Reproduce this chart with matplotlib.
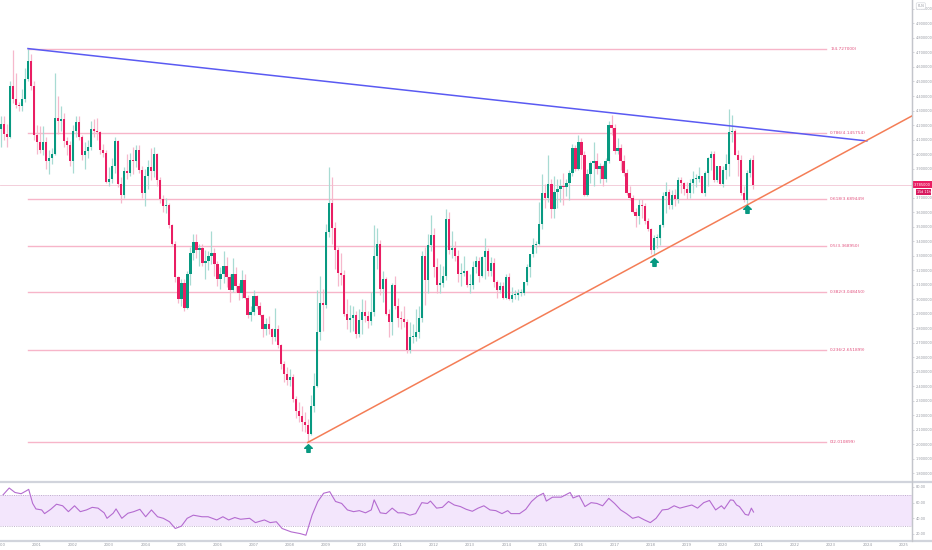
import numpy as np
import matplotlib.pyplot as plt
from matplotlib.path import Path

## Monthly candles USD/PLN, Jan 2000 .. Nov 2020
first_open = 4.17
closes = [
    4.21, 4.14, 4.12, 4.47, 4.38, 4.34, 4.33, 4.38, 4.52, 4.64, 4.47, 4.13,   # 2000
    4.08, 4.03, 4.08, 3.95, 3.97, 4.00, 4.25, 4.23, 4.24, 4.09, 4.06, 3.95,   # 2001
    4.16, 4.22, 4.12, 3.99, 4.02, 4.05, 4.17, 4.16, 4.15, 4.03, 4.01, 3.81,   # 2002
    3.83, 3.92, 4.09, 3.79, 3.72, 3.88, 3.87, 3.96, 3.95, 4.03, 3.89, 3.73,   # 2003
    3.85, 3.91, 3.88, 4.00, 3.82, 3.69, 3.64, 3.65, 3.51, 3.38, 3.15, 3.00,   # 2004
    3.11, 2.94, 3.17, 3.32, 3.39, 3.34, 3.35, 3.25, 3.26, 3.30, 3.32, 3.24,   # 2005
    3.14, 3.17, 3.23, 3.15, 3.06, 3.17, 3.09, 3.04, 3.13, 3.01, 2.89, 2.91,   # 2006
    3.02, 2.95, 2.89, 2.79, 2.83, 2.79, 2.74, 2.79, 2.68, 2.55, 2.48, 2.44,   # 2007
    2.46, 2.31, 2.23, 2.19, 2.15, 2.13, 2.07, 2.26, 2.40, 2.77, 2.97, 2.96,   # 2008
    3.46, 3.66, 3.49, 3.34, 3.18, 3.165, 2.90, 2.855, 2.87, 2.89, 2.76, 2.855,  # 2009
    2.91, 2.88, 2.85, 2.91, 3.30, 3.38, 3.07, 3.14, 2.90, 2.84, 3.10, 2.95,   # 2010
    2.87, 2.86, 2.84, 2.65, 2.74, 2.74, 2.77, 2.87, 3.30, 3.13, 3.37, 3.44,   # 2011
    3.22, 3.10, 3.11, 3.16, 3.55, 3.34, 3.35, 3.30, 3.17, 3.18, 3.19, 3.10,   # 2012
    3.10, 3.22, 3.26, 3.16, 3.29, 3.33, 3.19, 3.25, 3.12, 3.06, 3.09, 3.01,   # 2013
    3.15, 3.00, 3.03, 3.03, 3.04, 3.04, 3.12, 3.22, 3.31, 3.37, 3.38, 3.52,   # 2014
    3.73, 3.70, 3.79, 3.62, 3.74, 3.76, 3.78, 3.77, 3.80, 3.87, 4.04, 3.90,   # 2015
    4.08, 3.99, 3.72, 3.86, 3.94, 3.95, 3.90, 3.92, 3.83, 3.95, 4.20, 4.18,   # 2016
    4.02, 4.04, 3.95, 3.87, 3.73, 3.70, 3.60, 3.57, 3.65, 3.64, 3.54, 3.48,   # 2017
    3.34, 3.42, 3.42, 3.51, 3.71, 3.74, 3.65, 3.72, 3.69, 3.82, 3.80, 3.76,   # 2018
    3.73, 3.80, 3.83, 3.83, 3.85, 3.73, 3.87, 3.97, 4.00, 3.82, 3.92, 3.79,   # 2019
    3.89, 3.93, 4.15, 4.16, 3.99, 3.96, 3.73, 3.68, 3.87, 3.96, 3.785,        # 2020
]
highs = [
    4.26, 4.26, 4.21, 4.50, 4.72, 4.56, 4.36, 4.45, 4.59, 4.727, 4.69, 4.50,
    4.20, 4.19, 4.19, 4.12, 4.03, 4.04, 4.56, 4.40, 4.33, 4.28, 4.12, 4.09,
    4.20, 4.26, 4.26, 4.13, 4.08, 4.10, 4.23, 4.24, 4.25, 4.16, 4.07, 4.03,
    3.91, 3.97, 4.12, 4.10, 3.84, 3.91, 4.00, 4.01, 4.05, 4.06, 4.06, 3.92,
    3.90, 3.96, 4.04, 4.05, 4.01, 3.84, 3.72, 3.70, 3.66, 3.52, 3.40, 3.16,
    3.14, 3.14, 3.19, 3.36, 3.45, 3.45, 3.38, 3.38, 3.34, 3.33, 3.47, 3.35,
    3.26, 3.22, 3.33, 3.29, 3.17, 3.28, 3.22, 3.11, 3.20, 3.17, 3.03, 2.95,
    3.06, 3.03, 2.98, 2.90, 2.87, 2.88, 2.80, 2.94, 2.82, 2.69, 2.57, 2.53,
    2.52, 2.48, 2.33, 2.29, 2.26, 2.22, 2.17, 2.34, 2.49, 3.06, 3.16, 3.07,
    3.52, 3.91, 3.84, 3.53, 3.36, 3.32, 3.20, 3.00, 2.96, 2.95, 2.92, 2.93,
    3.00, 2.99, 2.92, 3.05, 3.51, 3.49, 3.41, 3.19, 3.15, 2.93, 3.11, 3.16,
    3.01, 2.92, 2.95, 2.86, 2.84, 2.83, 2.93, 2.95, 3.33, 3.36, 3.45, 3.58,
    3.49, 3.28, 3.24, 3.23, 3.62, 3.60, 3.47, 3.40, 3.34, 3.25, 3.30, 3.20,
    3.17, 3.26, 3.30, 3.29, 3.30, 3.42, 3.35, 3.29, 3.28, 3.13, 3.12, 3.12,
    3.17, 3.18, 3.08, 3.06, 3.07, 3.07, 3.12, 3.24, 3.31, 3.42, 3.40, 3.67,
    3.86, 3.79, 3.99, 3.83, 3.85, 3.83, 3.83, 3.87, 3.83, 3.89, 4.07, 4.06,
    4.13, 4.11, 4.02, 3.90, 3.95, 4.08, 4.01, 3.94, 3.93, 3.97, 4.23, 4.27,
    4.21, 4.11, 4.07, 3.99, 3.90, 3.78, 3.72, 3.63, 3.69, 3.69, 3.66, 3.56,
    3.49, 3.44, 3.45, 3.52, 3.74, 3.81, 3.76, 3.75, 3.76, 3.84, 3.84, 3.81,
    3.81, 3.83, 3.88, 3.86, 3.91, 3.85, 3.88, 3.98, 4.02, 4.02, 3.92, 3.92,
    3.92, 4.00, 4.31, 4.27, 4.17, 4.03, 3.99, 3.78, 3.89, 3.97, 3.99,
]
lows = [
    4.05, 4.10, 4.05, 4.11, 4.35, 4.32, 4.30, 4.30, 4.36, 4.50, 4.44, 4.10,
    4.00, 4.01, 3.99, 3.90, 3.86, 3.93, 3.99, 4.14, 4.16, 4.05, 3.99, 3.92,
    3.87, 4.12, 4.10, 3.96, 3.90, 3.97, 4.03, 4.12, 4.10, 4.00, 3.98, 3.80,
    3.78, 3.80, 3.87, 3.77, 3.66, 3.70, 3.83, 3.85, 3.86, 3.91, 3.87, 3.70,
    3.64, 3.76, 3.82, 3.84, 3.78, 3.66, 3.60, 3.59, 3.49, 3.37, 3.12, 2.97,
    2.95, 2.92, 2.93, 3.10, 3.27, 3.28, 3.23, 3.23, 3.14, 3.20, 3.24, 3.16,
    3.09, 3.07, 3.11, 3.08, 2.98, 3.05, 3.05, 2.99, 3.01, 3.00, 2.87, 2.85,
    2.89, 2.93, 2.88, 2.74, 2.75, 2.76, 2.69, 2.71, 2.66, 2.52, 2.43, 2.41,
    2.40, 2.29, 2.18, 2.15, 2.09, 2.08, 2.0109, 2.06, 2.22, 2.39, 2.72, 2.78,
    2.94, 3.43, 3.38, 3.21, 3.09, 3.10, 2.88, 2.79, 2.77, 2.78, 2.73, 2.74,
    2.76, 2.84, 2.80, 2.82, 2.88, 3.21, 3.03, 2.98, 2.89, 2.74, 2.75, 2.93,
    2.81, 2.79, 2.81, 2.63, 2.63, 2.70, 2.71, 2.73, 2.84, 2.96, 3.04, 3.33,
    3.15, 3.04, 3.04, 3.08, 3.13, 3.31, 3.28, 3.26, 3.12, 3.09, 3.16, 3.08,
    3.04, 3.07, 3.18, 3.12, 3.15, 3.14, 3.16, 3.16, 3.08, 3.01, 3.04, 3.00,
    3.00, 2.99, 2.98, 3.00, 2.99, 3.02, 3.03, 3.10, 3.15, 3.29, 3.32, 3.37,
    3.48, 3.63, 3.67, 3.56, 3.56, 3.63, 3.67, 3.65, 3.71, 3.68, 3.85, 3.88,
    3.89, 3.90, 3.71, 3.71, 3.80, 3.78, 3.86, 3.80, 3.78, 3.81, 3.94, 4.13,
    4.00, 4.00, 3.89, 3.85, 3.72, 3.68, 3.59, 3.50, 3.52, 3.56, 3.52, 3.47,
    3.31, 3.31, 3.35, 3.37, 3.50, 3.59, 3.62, 3.62, 3.64, 3.66, 3.73, 3.72,
    3.69, 3.70, 3.73, 3.77, 3.81, 3.73, 3.71, 3.78, 3.89, 3.81, 3.81, 3.79,
    3.77, 3.83, 3.85, 4.08, 3.99, 3.85, 3.72, 3.67, 3.65, 3.84, 3.76,
]

## RSI
rsi_years = [
    2000.06, 2000.23, 2000.39, 2000.56, 2000.70, 2000.77, 2000.88, 2000.97,
    2001.13, 2001.21, 2001.38, 2001.54, 2001.71, 2001.87,
    2002.04, 2002.20, 2002.37, 2002.53, 2002.69, 2002.86, 2002.94,
    2003.11, 2003.19, 2003.35, 2003.52, 2003.68, 2003.85,
    2004.01, 2004.17, 2004.34, 2004.50, 2004.67, 2004.83,
    2005.00, 2005.16, 2005.33, 2005.57, 2005.74, 2005.98,
    2006.15, 2006.31, 2006.48, 2006.64, 2006.89,
    2007.05, 2007.30, 2007.46, 2007.63, 2007.79,
    2008.04, 2008.29, 2008.45, 2008.62, 2008.78, 2008.94,
    2009.11, 2009.27, 2009.44, 2009.60, 2009.77, 2009.93,
    2010.10, 2010.26, 2010.34, 2010.51, 2010.67, 2010.84,
    2011.00, 2011.16, 2011.33, 2011.49, 2011.66, 2011.82, 2011.90,
    2012.07, 2012.23, 2012.40, 2012.56, 2012.73, 2012.89,
    2013.06, 2013.22, 2013.38, 2013.55, 2013.71, 2013.88,
    2014.04, 2014.13, 2014.37, 2014.54, 2014.70, 2014.86,
    2015.03, 2015.11, 2015.28, 2015.52, 2015.77, 2015.85,
    2016.02, 2016.18, 2016.35, 2016.51, 2016.67, 2016.84,
    2017.00, 2017.17, 2017.33, 2017.50, 2017.66, 2017.83, 2017.99,
    2018.15, 2018.32, 2018.48, 2018.65, 2018.81, 2018.98,
    2019.14, 2019.30, 2019.47, 2019.63, 2019.80, 2019.96,
    2020.04, 2020.13, 2020.21, 2020.29, 2020.38, 2020.46, 2020.54, 2020.62, 2020.71, 2020.79, 2020.85,
]
rsi_values = [
    70, 78.7, 73, 71.4, 75, 77, 59, 52,
    50.7, 46, 51.5, 58, 56, 48.5,
    56, 48.5, 50.7, 54, 53, 47, 40,
    46.5, 52, 40, 46.5, 48.5, 51.5,
    42, 50.7, 42, 40, 35.6, 27,
    30, 40, 44, 42, 42, 37.9,
    42, 37.9, 41, 38.8, 40,
    34.5, 37.9, 34.5, 35.6, 27,
    22.7, 20.5, 18.4, 44, 61.5, 72,
    74, 61.5, 59, 50.7, 48.5, 49.8,
    47, 50.7, 63.6, 47, 46, 53,
    47, 47, 44, 46, 60, 59, 62,
    53, 54, 61.5, 57, 55, 51.5,
    49, 53, 56, 50.7, 49.8, 46,
    49.8, 46, 46, 51.5, 61.5, 68,
    72, 62, 67, 67, 73, 66,
    69, 55, 60, 59, 56, 65.5,
    59, 50.7, 46, 40, 42, 37.9, 34.5,
    40, 50.7, 51.5, 56, 53, 55,
    57, 53, 60, 62.8, 50.7, 56,
    52, 58, 63.5, 63, 57, 55, 50, 45, 44, 53, 48,
]

## Fibonacci retracement (Oct 2000 high -> Jul 2008 low)
fib_high = 4.727
fib_low = 2.010899
fib_ratios = [1, 0.786, 0.618, 0.5, 0.382, 0.236, 0]
fib_start, fib_end = 2000.75, 2022.85

## Trend lines and markers
blue_pts = ([2000.75, 2023.99], [4.727, 4.09])
orange_pts = ([2008.5, 2018.083], [2.0109, 3.30])
arrow_years = [2008.5, 2018.083, 2020.667]
arrow_prices = [1.975, 3.255, 3.62]
last_price = 3.785

UP, DOWN = '#089981', '#e91e63'
UP_WICK, DOWN_WICK = '#a8dbd3', '#f6b8cc'
AXIS_TXT = '#9598a1'
XMIN, XMAX = 1999.975, 2025.24

closes = np.array(closes)
highs = np.array(highs)
lows = np.array(lows)
opens = np.concatenate([[first_open], closes[:-1]])
x = 2000 + np.arange(len(closes)) / 12.0
up = closes >= opens

fig = plt.figure(figsize=(9.32, 5.5), dpi=100)
ax = fig.add_axes([0, 70 / 550, 912 / 932, 480 / 550])
rax = fig.add_axes([0, 10 / 550, 912 / 932, 57 / 550])

## Candles
ax.vlines(x[up], lows[up], highs[up], color=UP_WICK, lw=0.9, zorder=2)
ax.vlines(x[~up], lows[~up], highs[~up], color=DOWN_WICK, lw=0.9, zorder=2)
bottom = np.minimum(opens, closes)
height = np.maximum(np.abs(closes - opens), 0.007)
ax.bar(x[up], height[up], bottom=bottom[up], width=0.062, color=UP, lw=0, zorder=3)
ax.bar(x[~up], height[~up], bottom=bottom[~up], width=0.062, color=DOWN, lw=0, zorder=3)

## Fib levels
for r in fib_ratios:
    lvl = fib_low + r * (fib_high - fib_low)
    ax.plot([fib_start, fib_end], [lvl, lvl], color='#f7b5c9', lw=1.0, zorder=1)
    ax.text(fib_end + 0.12, lvl, f'{r:g}({lvl:.6f})', fontsize=3.1, color='#e2527f',
            va='center', ha='left')

## Trend lines
ax.plot(blue_pts[0], blue_pts[1], color='#5a5af2', lw=1.1, zorder=4)
slope = (orange_pts[1][1] - orange_pts[1][0]) / (orange_pts[0][1] - orange_pts[0][0])
ax.plot([orange_pts[0][0], XMAX], [orange_pts[1][0], orange_pts[1][0] + slope * (XMAX - orange_pts[0][0])],
        color='#f47d56', lw=1.1, zorder=4)

## Arrows under the lows
arrow = Path([(0, 1), (1, 0.05), (0.42, 0.05), (0.42, -1), (-0.42, -1), (-0.42, 0.05), (-1, 0.05), (0, 1)],
             [Path.MOVETO] + [Path.LINETO] * 6 + [Path.CLOSEPOLY])
ax.plot(arrow_years, arrow_prices, ls='none', marker=arrow, ms=5.5, color=UP, zorder=5)

## Last price line and tags
ax.axhline(last_price, color='#f1c6d4', lw=0.6, zorder=1)
ax.text(1.002, last_price + 0.004, '3.785000', transform=ax.get_yaxis_transform(), fontsize=2.5,
        color='white', va='center', ha='left', zorder=10, clip_on=False,
        bbox=dict(boxstyle='square,pad=0.4', fc=DOWN, ec='none'))
ax.text(1.005, last_price - 0.05, '15d 11h', transform=ax.get_yaxis_transform(), fontsize=2.4,
        color='white', va='center', ha='left', zorder=10, clip_on=False,
        bbox=dict(boxstyle='square,pad=0.3', fc='#d81b60', ec='none'))
ax.text(1.006, 1.0 - 6 / 480, 'PLN', transform=ax.transAxes, fontsize=2.5, color=AXIS_TXT,
        va='center', ha='left', clip_on=False,
        bbox=dict(boxstyle='round,pad=0.35', fc='white', ec='#d6d8de', lw=0.5))

ax.set_xlim(XMIN, XMAX)
ax.set_ylim(1.752, 5.062)
ax.set_yticks(np.round(np.arange(1.8, 5.01, 0.1), 1))
## the 3.8 label sits under the last-price tag, as in the screenshot
ax.yaxis.set_major_formatter(plt.FuncFormatter(lambda v, p: '' if abs(v - 3.8) < 1e-6 else f'{v:.6f}'))
ax.yaxis.tick_right()
ax.tick_params(axis='y', length=1.5, width=0.5, color='#c3c5cb', labelsize=2.5,
               labelcolor=AXIS_TXT, pad=1.2)
ax.set_xticks([])

## RSI pane
rax.axhspan(30, 70, color='#f3e6fc', lw=0, zorder=0)
for lvl in (70, 30):
    rax.axhline(lvl, color='#b8a9c6', lw=0.6, ls=(0, (1.2, 1.5)), zorder=1)
rax.plot(rsi_years, rsi_values, color='#b46bd0', lw=0.8, zorder=3)
rax.set_xlim(XMIN, XMAX)
rax.set_ylim(12.3, 85.1)
rax.set_yticks([20, 40, 60, 80])
rax.yaxis.set_major_formatter(plt.FormatStrFormatter('%.2f'))
rax.yaxis.tick_right()
rax.tick_params(axis='y', length=1.5, width=0.5, color='#c3c5cb', labelsize=2.5,
                labelcolor=AXIS_TXT, pad=1.2)
years = list(range(2000, 2026))
rax.set_xticks(years)
rax.set_xticklabels([str(y) for y in years])
rax.tick_params(axis='x', length=0, labelsize=2.8, labelcolor=AXIS_TXT, pad=2.5)

for a in (ax, rax):
    for s in ('top', 'left', 'bottom'):
        a.spines[s].set_visible(False)
    a.spines['right'].set_color('#c3c5cb')
    a.spines['right'].set_linewidth(0.9)
    a.set_facecolor('white')

## Pane separators
for yy in ((550 - 481.5) / 550, (550 - 541) / 550):
    fig.add_artist(plt.Line2D([0, 1], [yy, yy], transform=fig.transFigure, color='#d1d4dc', lw=1.6))
fig.add_artist(plt.Line2D([912 / 932, 912 / 932], [(550 - 541) / 550, 1], transform=fig.transFigure,
                          color='#c3c5cb', lw=0.9))

fig.savefig('out.png', dpi=100, facecolor='white')
